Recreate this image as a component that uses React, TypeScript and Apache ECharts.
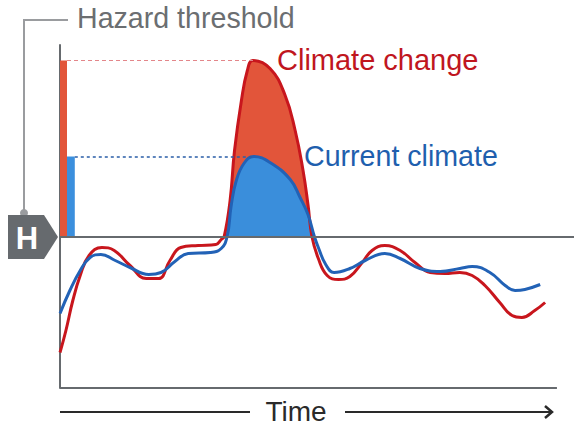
import React, { useEffect, useRef } from "react";
import * as echarts from "echarts";

// Time axis runs 0..100 across the plotted curves; level 0 is the hazard threshold.
const climateChange: [number, number][] = [
  [0, -11.6], [1.2, -9.4], [2.6, -6.4], [4.1, -3.9], [5.9, -1.9], [8.5, -1.1], [11.0, -1.4],
  [14.2, -2.9], [17.5, -4.2], [20.0, -4.2], [22.3, -2.4], [24.5, -1.1], [28.0, -0.9],
  [31.6, -0.8], [32.7, -0.3], [33.3, 0], [34.5, 3.6], [35.4, 8.6], [36.8, 13.6],
  [38.0, 16.6], [39.1, 17.6], [42.6, 16.8], [45.6, 14.2], [47.7, 10.6], [49.3, 6.6],
  [50.3, 3.2], [51.1, 0], [52.4, -2.2], [54.2, -3.9], [56.5, -4.3], [58.8, -4.0],
  [61.3, -2.6], [63.3, -1.4], [65.9, -0.9], [69.0, -1.4], [72.0, -2.6], [75.1, -3.6],
  [78.1, -3.7], [81.1, -3.6], [83.6, -3.9], [86.2, -4.9], [89.2, -6.6], [91.7, -7.9],
  [93.7, -8.1], [96.3, -7.4], [98.4, -6.6],
];

const currentClimate: [number, number][] = [
  [0, -7.7], [2.0, -5.4], [4.1, -3.4], [6.1, -2.1], [8.3, -1.8], [11.2, -2.4], [14.2, -3.1],
  [18.0, -3.8], [20.5, -3.6], [23.3, -2.5], [26.0, -1.7], [30.5, -1.6], [32.7, -1.2],
  [33.9, 0], [34.7, 3.0], [35.7, 5.5], [37.3, 7.3], [39.3, 8.0], [42.6, 7.4],
  [46.7, 5.7], [48.7, 3.9], [50.3, 2.2], [51.6, 0], [52.4, -1.1], [53.9, -2.8],
  [55.6, -3.6], [58.8, -3.2], [61.9, -2.4], [65.9, -1.7], [69.0, -2.2], [73.0, -3.2],
  [77.1, -3.5], [81.1, -3.2], [83.6, -3.0], [87.2, -3.6], [90.3, -4.9], [92.3, -5.4],
  [94.3, -5.3], [97.4, -4.8],
];

// Peak hazard levels marked on the left
const climateChangePeak = 17.6;
const currentClimatePeak = 8.0;
const climateChangeBar: [number, number] = [0, 1.42];
const currentClimateBar: [number, number] = [1.42, 3.0];
const peakTime = 39.2;

const T_MAX = 104.26;
const Y_MIN = -15.15;
const Y_MAX = 19.15;
const AXIS_END = 100.8;

const RED_LINE = "#c8161d";
const RED_FILL = "#e2553a";
const BLUE_LINE = "#2262b6";
const BLUE_FILL = "#3a8edb";
const GREY = "#666a6e";
const FONT = "'Liberation Sans', Arial, sans-serif";
const SMOOTH = 0.45;

export default function App() {
  const ref = useRef<HTMLDivElement>(null);

  useEffect(() => {
    if (!ref.current) return;
    const chart = echarts.init(ref.current, null, { renderer: "svg" });
    const redPeak = climateChange.filter((p) => p[1] >= 0);
    const bluePeak = currentClimate.filter((p) => p[1] >= 0);

    chart.setOption({
      animation: false,
      grid: { left: 60, right: 0, top: 45, bottom: 37 },
      xAxis: {
        type: "value",
        min: 0,
        max: T_MAX,
        axisLine: { show: false },
        axisTick: { show: false },
        axisLabel: { show: false },
        splitLine: { show: false },
      },
      yAxis: {
        type: "value",
        min: Y_MIN,
        max: Y_MAX,
        axisLine: { show: true, lineStyle: { color: GREY, width: 2 } },
        axisTick: { show: false },
        axisLabel: { show: false },
        splitLine: { show: false },
      },
      series: [
        {
          type: "line",
          name: "climate-area",
          data: redPeak,
          smooth: SMOOTH,
          showSymbol: false,
          silent: true,
          lineStyle: { width: 0, color: RED_FILL },
          areaStyle: { color: RED_FILL, opacity: 1, origin: 0 },
          z: 1,
          markArea: {
            silent: true,
            data: [
              [
                { coord: [climateChangeBar[0], 0], itemStyle: { color: RED_FILL } },
                { coord: [climateChangeBar[1], climateChangePeak] },
              ],
              [
                { coord: [currentClimateBar[0], 0], itemStyle: { color: "#3b8fdd" } },
                { coord: [currentClimateBar[1], currentClimatePeak] },
              ],
            ],
          },
        },
        {
          type: "line",
          name: "current-area",
          data: bluePeak,
          smooth: SMOOTH,
          showSymbol: false,
          silent: true,
          lineStyle: { width: 0, color: BLUE_FILL },
          areaStyle: { color: BLUE_FILL, opacity: 1, origin: 0 },
          z: 2,
        },
        {
          type: "line",
          name: "Climate change",
          data: climateChange,
          smooth: SMOOTH,
          showSymbol: false,
          silent: true,
          lineStyle: { width: 3, color: RED_LINE },
          z: 3,
          markLine: {
            silent: true,
            symbol: "none",
            label: { show: false },
            data: [
              [
                { coord: [0, 0], lineStyle: { color: GREY, width: 2, type: "solid" } },
                { coord: [T_MAX, 0] },
              ],
              [
                { coord: [0, Y_MIN], lineStyle: { color: GREY, width: 2, type: "solid" } },
                { coord: [AXIS_END, Y_MIN] },
              ],
              [
                {
                  coord: [climateChangeBar[1], climateChangePeak],
                  lineStyle: { color: "#e3868a", width: 1.2, type: [4, 3] },
                },
                { coord: [peakTime, climateChangePeak] },
              ],
              [
                {
                  coord: [currentClimateBar[1], currentClimatePeak],
                  lineStyle: { color: "#2a5ea8", width: 1.6, type: [3, 3] },
                },
                { coord: [peakTime, currentClimatePeak] },
              ],
            ],
          },
        },
        {
          type: "line",
          name: "Current climate",
          data: currentClimate,
          smooth: SMOOTH,
          showSymbol: false,
          silent: true,
          lineStyle: { width: 3, color: BLUE_LINE },
          z: 4,
        },
      ],
      graphic: [
        {
          type: "polyline",
          shape: { points: [[24, 213], [24, 20], [68, 20]] },
          style: { stroke: "#9a9c9f", lineWidth: 2, fill: "none" },
          silent: true,
        },
        {
          type: "circle",
          shape: { cx: 24, cy: 213, r: 4 },
          style: { fill: "#9a9c9f" },
          silent: true,
        },
        {
          type: "polygon",
          shape: { points: [[8, 215], [44, 215], [58, 237], [44, 259], [8, 259]] },
          style: { fill: GREY },
          silent: true,
        },
        {
          type: "text",
          x: 27,
          y: 238,
          style: {
            text: "H",
            fill: "#ffffff",
            font: `bold 31px ${FONT}`,
            textAlign: "center",
            textVerticalAlign: "middle",
          },
          silent: true,
        },
        {
          type: "text",
          x: 77,
          y: 18,
          style: {
            text: "Hazard threshold",
            fill: "#6b6e71",
            font: `28.6px ${FONT}`,
            textAlign: "left",
            textVerticalAlign: "middle",
          },
          silent: true,
        },
        {
          type: "text",
          x: 277,
          y: 60,
          style: {
            text: "Climate change",
            fill: "#c0161e",
            font: `29px ${FONT}`,
            textAlign: "left",
            textVerticalAlign: "middle",
          },
          silent: true,
        },
        {
          type: "text",
          x: 304,
          y: 156,
          style: {
            text: "Current climate",
            fill: "#1f5fae",
            font: `28.6px ${FONT}`,
            textAlign: "left",
            textVerticalAlign: "middle",
          },
          silent: true,
        },
        {
          type: "text",
          x: 296,
          y: 411,
          style: {
            text: "Time",
            fill: "#2a2a2a",
            font: `28px ${FONT}`,
            textAlign: "center",
            textVerticalAlign: "middle",
          },
          silent: true,
        },
        {
          type: "line",
          shape: { x1: 60, y1: 412, x2: 250, y2: 412 },
          style: { stroke: "#2a2a2a", lineWidth: 2 },
          silent: true,
        },
        {
          type: "line",
          shape: { x1: 345, y1: 412, x2: 551, y2: 412 },
          style: { stroke: "#2a2a2a", lineWidth: 2 },
          silent: true,
        },
        {
          type: "polyline",
          shape: { points: [[545, 406], [552, 412], [545, 418]] },
          style: { stroke: "#2a2a2a", lineWidth: 2.5, fill: "none" },
          silent: true,
        },
      ],
    });

    return () => chart.dispose();
  }, []);

  return (
    <div
      ref={ref}
      style={{ position: "fixed", left: 0, top: 0, width: 574, height: 425, background: "#ffffff" }}
    />
  );
}
